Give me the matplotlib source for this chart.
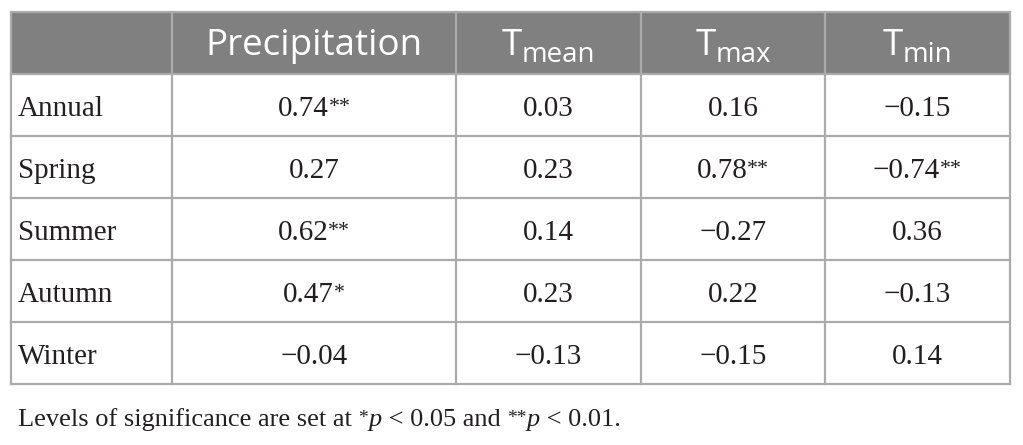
import matplotlib
matplotlib.use("Agg")
import matplotlib.pyplot as plt
from matplotlib.patches import Rectangle

# ---------------- data ----------------
header_main = ["Precipitation", "T", "T", "T"]
header_sub = ["", "mean", "max", "min"]
row_labels = ["Annual", "Spring", "Summer", "Autumn", "Winter"]
precipitation = [0.74, 0.27, 0.62, 0.47, -0.04]
t_mean = [0.03, 0.23, 0.14, 0.23, -0.13]
t_max = [0.16, 0.78, -0.27, 0.22, -0.15]
t_min = [-0.15, -0.74, 0.36, -0.13, 0.14]
stars_precipitation = [2, 0, 2, 1, 0]
stars_t_mean = [0, 0, 0, 0, 0]
stars_t_max = [0, 2, 0, 0, 0]
stars_t_min = [0, 2, 0, 0, 0]
footnote = [("Levels of significance are set at ", "normal", 0), ("*", "normal", 1),
            ("p", "italic", 0), (" < 0.05 and ", "normal", 0), ("**", "normal", 1),
            ("p", "italic", 0), (" < 0.01.", "normal", 0)]

values = [precipitation, t_mean, t_max, t_min]
stars = [stars_precipitation, stars_t_mean, stars_t_max, stars_t_min]

# ---------------- layout ----------------
W, H = 1023, 445
fig = plt.figure(figsize=(W / 100, H / 100), dpi=100)
ax = fig.add_axes([0, 0, 1, 1])
ax.set_xlim(0, W)
ax.set_ylim(H, 0)
ax.axis("off")
renderer = fig.canvas.get_renderer()

col_edges = [11, 172, 456, 641, 825, 1010]
head_top, head_bot = 12, 74
row_h = 62.0
row_edges = [head_bot + i * row_h for i in range(len(row_labels) + 1)]
bottom = row_edges[-1]

HEAD_FONT = "Open Sans"
BODY_FONT = "Liberation Serif"
line_col = "#ababab"
text_col = "#231f20"

ax.add_patch(Rectangle((col_edges[0], head_top), col_edges[-1] - col_edges[0],
                       head_bot - head_top, facecolor="#808080", edgecolor="none", zorder=0))
for y in [head_top] + row_edges:
    ax.plot([col_edges[0], col_edges[-1]], [y, y], color=line_col, lw=1.6, zorder=2,
            solid_capstyle="projecting")
for x in col_edges:
    ax.plot([x, x], [head_top, bottom], color=line_col, lw=1.6, zorder=2,
            solid_capstyle="projecting")


def draw_runs(x, y, parts, ha="left"):
    """parts: list of (text, kwargs, raise_px). y is baseline in pixel coords."""
    objs = []
    widths = []
    for txt, kw, dy in parts:
        t = ax.text(0, y - dy, txt, va="baseline", ha="left", **kw)
        w = t.get_window_extent(renderer).width
        objs.append(t)
        widths.append(w)
    total = sum(widths)
    x0 = x - total / 2 if ha == "center" else x
    for t, w in zip(objs, widths):
        t.set_x(x0)
        x0 += w


# header
head_base = 55
for j, (m, s) in enumerate(zip(header_main, header_sub)):
    cx = (col_edges[j + 1] + col_edges[j + 2]) / 2
    parts = [(m, dict(family=HEAD_FONT, size=26.5, color="white"), 0)]
    if s:
        parts.append((s, dict(family=HEAD_FONT, size=20, color="white"), -7))
    draw_runs(cx, head_base, parts, ha="center")


def fmt(v):
    s = f"{abs(v):.2f}"
    return ("\u2212" + s) if v < 0 else s


body_size = 21
for i, lab in enumerate(row_labels):
    cy = (row_edges[i] + row_edges[i + 1]) / 2
    base = cy + 10.5
    ax.text(18, base, lab, family=BODY_FONT, size=body_size, color=text_col,
            va="baseline", ha="left")
    for j in range(len(values)):
        cx = (col_edges[j + 1] + col_edges[j + 2]) / 2
        parts = [(fmt(values[j][i]), dict(family=BODY_FONT, size=body_size, color=text_col), 0)]
        if stars[j][i]:
            parts.append(("*" * stars[j][i],
                          dict(family=BODY_FONT, size=body_size * 0.75, color=text_col), 3))
        draw_runs(cx, base, parts, ha="center")

# footnote
foot_parts = []
for txt, style, sup in footnote:
    if sup:
        foot_parts.append((txt, dict(family=BODY_FONT, size=14, color=text_col), 3))
    else:
        foot_parts.append((txt, dict(family=BODY_FONT, size=19, style=style, color=text_col), 0))
draw_runs(18, 426, foot_parts, ha="left")

fig.savefig("out.png", dpi=100)
